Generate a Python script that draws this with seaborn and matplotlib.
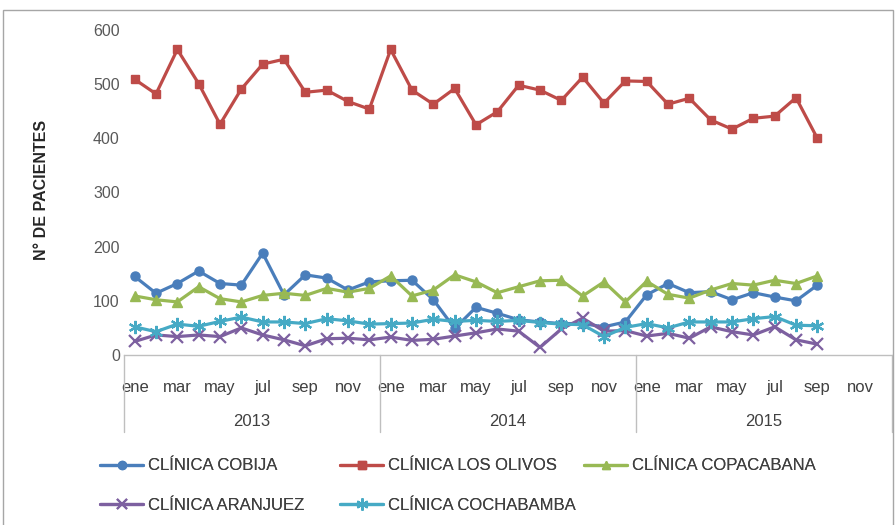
import matplotlib
matplotlib.use("Agg")
import matplotlib.pyplot as plt
from matplotlib.lines import Line2D
from matplotlib.patches import Rectangle
from matplotlib.transforms import blended_transform_factory
import seaborn as sns
import pandas as pd

# ---------------- data ----------------
years = ["2013", "2014", "2015"]
months = ["ene", "feb", "mar", "abr", "may", "jun", "jul", "ago", "sep", "oct", "nov", "dic"]
shown_months = ["ene", "mar", "may", "jul", "sep", "nov"]

series_names = ["CLÍNICA COBIJA", "CLÍNICA LOS OLIVOS", "CLÍNICA COPACABANA",
                "CLÍNICA ARANJUEZ", "CLÍNICA COCHABAMBA"]

cobija = [145, 114, 132, 155, 132, 129, 188, 111, 148, 142, 120, 135,
          137, 138, 102, 49, 88, 77, 65, 61, 58, 58, 52, 61,
          111, 132, 115, 117, 102, 115, 107, 100, 129]
los_olivos = [509, 482, 564, 501, 426, 491, 537, 546, 485, 489, 468, 454,
              564, 489, 463, 492, 425, 449, 498, 489, 470, 513, 465, 506,
              505, 463, 474, 434, 417, 437, 441, 475, 400]
copacabana = [109, 102, 98, 126, 104, 98, 110, 114, 110, 123, 116, 123,
              146, 109, 120, 148, 135, 115, 126, 137, 138, 109, 135, 98,
              136, 112, 105, 120, 132, 129, 138, 132, 146]
aranjuez = [25, 37, 34, 37, 34, 50, 37, 28, 17, 30, 31, 28,
            33, 27, 29, 35, 41, 48, 44, 14, 48, 68, 44, 45,
            35, 40, 31, 52, 43, 37, 52, 28, 20]
cochabamba = [52, 43, 57, 53, 62, 70, 61, 61, 58, 67, 63, 57,
              58, 59, 66, 62, 64, 62, 64, 60, 57, 56, 34, 51,
              58, 50, 61, 61, 61, 67, 71, 55, 54]

values = [cobija, los_olivos, copacabana, aranjuez, cochabamba]
colors = ["#4A7EBB", "#BE4B48", "#98B954", "#7D60A0", "#46AAC5"]
marker_list = ["o", "s", "^", "x", (6, 2, 0)]
msizes = [6.5, 6, 6.5, 8.5, 9.5]

# ---------------- style ----------------
sns.set_style("white")
FONT = ["Liberation Sans", "DejaVu Sans"]
plt.rcParams["font.family"] = FONT

fig = plt.figure(figsize=(8.96, 5.25), dpi=100)
W, H = 896, 525
ax = fig.add_axes([124 / W, 1 - 355 / H, 768 / W, 325 / H])

for name, vals, c, mk, ms in zip(series_names, values, colors, marker_list, msizes):
    d = pd.DataFrame({"idx": range(len(vals)), "valor": vals})
    line_art = (mk == "x" or isinstance(mk, tuple))
    sns.lineplot(data=d, x="idx", y="valor", color=c, marker=mk,
                 markersize=ms, markerfacecolor=c, markeredgecolor=c,
                 markeredgewidth=1.6 if line_art else 1.0,
                 linewidth=2.3, ax=ax)

ax.set_xlim(-0.5, 35.5)
ax.set_ylim(0, 600)
ax.set_yticks(range(0, 601, 100))
ax.tick_params(axis="y", length=0, pad=3, labelsize=11.5, labelcolor="#595959")
ax.set_xlabel("")
ax.set_ylabel("")

month_pos = []
month_lab = []
for y in range(3):
    for m in range(0, 12, 2):
        month_pos.append(y * 12 + m)
        month_lab.append(months[m])
ax.set_xticks(month_pos)
ax.set_xticklabels(month_lab)
ax.tick_params(axis="x", length=0, pad=18, labelsize=12, labelcolor="#404040")

for s in ["top", "right", "left"]:
    ax.spines[s].set_visible(False)
ax.spines["bottom"].set_color("#BFBFBF")
ax.spines["bottom"].set_linewidth(1.0)

trans = blended_transform_factory(ax.transData, ax.transAxes)
for k in range(4):
    xpos = k * 12 - 0.5
    ax.plot([xpos, xpos], [0, -(432 - 355) / 325], transform=trans,
            color="#BFBFBF", lw=1.0, clip_on=False)
for k, yr in enumerate(years):
    ax.text(k * 12 + 5.5, -(421 - 355) / 325, yr, transform=trans,
            ha="center", va="center", fontsize=12, color="#404040")

fig.text(42 / W, 1 - 190 / H, "N° DE PACIENTES", rotation=90, ha="center",
         va="center", fontsize=11.5, fontweight="bold", color="#262626")

# legend entries, placed individually (three columns, two rows)
handles = [Line2D([], [], color=c, marker=mk, markersize=ms * 0.9,
                  markerfacecolor=c, markeredgecolor=c,
                  markeredgewidth=(1.5 if (mk == "x" or isinstance(mk, tuple)) else 1.0),
                  lw=2.3)
           for c, mk, ms in zip(colors, marker_list, msizes)]
positions = [(100, 466), (340, 466), (584, 466), (100, 505), (340, 505)]
for h, name, (xl, yl) in zip(handles, series_names, positions):
    leg = fig.legend([h], [name], loc="center left",
                     bbox_to_anchor=(xl / W, 1 - yl / H),
                     frameon=False, fontsize=12, handlelength=2.6,
                     handletextpad=0.25, borderpad=0, borderaxespad=0,
                     labelcolor="#404040")
    fig.add_artist(leg)

fig.add_artist(Rectangle((3 / W, -0.05), 890 / W, 1.05 - 10 / H,
                         transform=fig.transFigure, fill=False,
                         ec="#A6A6A6", lw=1.0))

fig.savefig("out.png", dpi=100)
